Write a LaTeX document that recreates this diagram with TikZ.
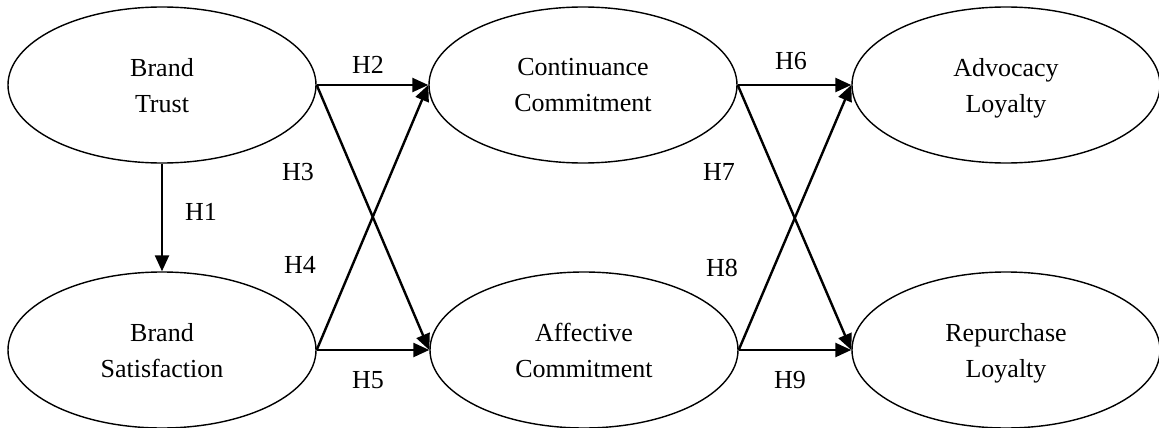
\documentclass[tikz,border=0pt]{standalone}
\usepackage{fontspec}
\setmainfont{Liberation Serif}
\usetikzlibrary{arrows.meta,shapes.geometric}
\tikzset{>={Triangle[length=16pt,width=14pt]}}

\begin{document}
\begin{tikzpicture}[x=1pt,y=-1pt,
  construct/.style={draw,ellipse,line width=1.4pt,minimum width=308pt,minimum height=156pt,inner sep=0pt,text depth=0pt,align=center,font=\fontsize{26}{36}\selectfont},
  hyp/.style={inner sep=0pt,font=\fontsize{26}{30}\selectfont},
  link/.style={->,line width=2.4pt}]
\useasboundingbox (0,0) rectangle (1159,428);
\node[construct] (trust) at (162,85) {Brand\\Trust};
\node[construct] (satis) at (162,350) {Brand\\Satisfaction};
\node[construct] (cont) at (583,85) {Continuance\\Commitment};
\node[construct] (affect) at (584,350) {Affective\\Commitment};
\node[construct] (advoc) at (1006,85) {Advocacy\\Loyalty};
\node[construct] (repur) at (1006,350) {Repurchase\\Loyalty};
\draw[link] (trust.south) -- (satis.north);
\draw[link] (trust.east) -- (cont.west);
\draw[link] (trust.east) -- (affect.west);
\draw[link] (satis.east) -- (cont.west);
\draw[link] (satis.east) -- (affect.west);
\draw[link] (cont.east) -- (advoc.west);
\draw[link] (cont.east) -- (repur.west);
\draw[link] (affect.east) -- (advoc.west);
\draw[link] (affect.east) -- (repur.west);
\node[hyp] (h1) at (201,212) {H1};
\node[hyp] (h2) at (368,65) {H2};
\node[hyp] (h3) at (298,172) {H3};
\node[hyp] (h4) at (300,265) {H4};
\node[hyp] (h5) at (368,380) {H5};
\node[hyp] (h6) at (791,61) {H6};
\node[hyp] (h7) at (719,172) {H7};
\node[hyp] (h8) at (722,268) {H8};
\node[hyp] (h9) at (790,380) {H9};
\end{tikzpicture}
\end{document}
